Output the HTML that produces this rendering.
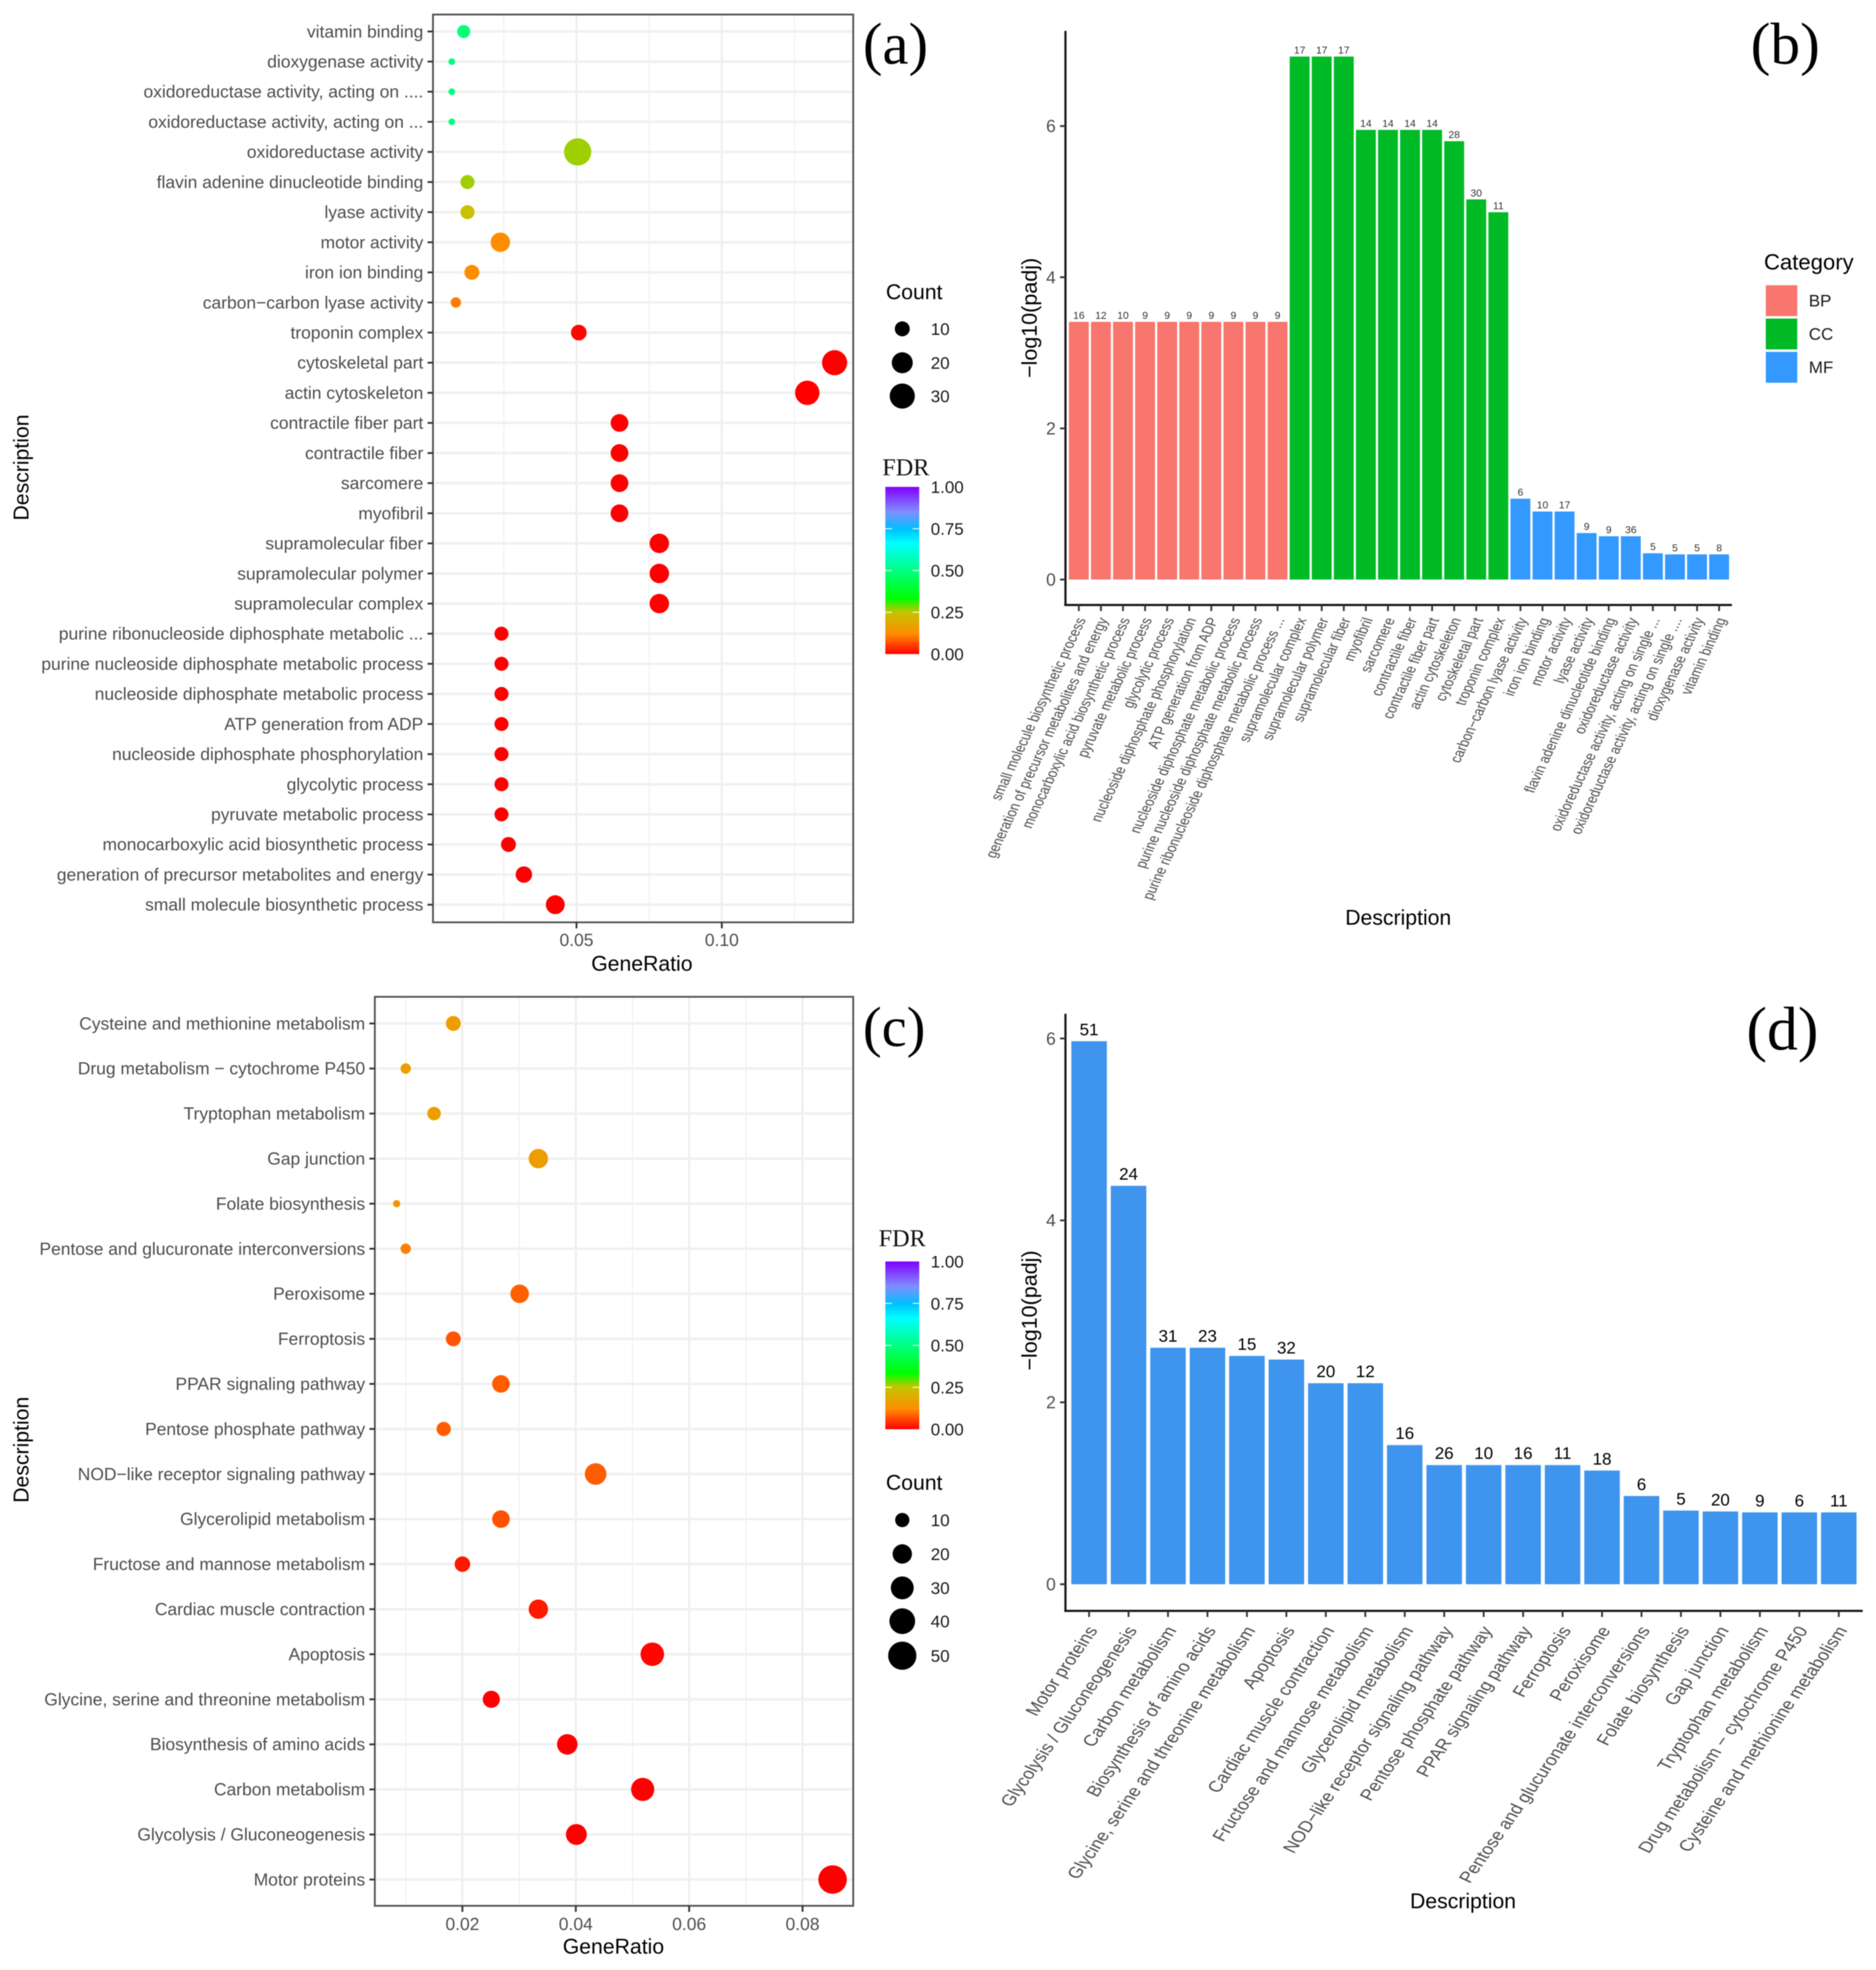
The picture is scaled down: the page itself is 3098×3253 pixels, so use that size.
<!DOCTYPE html>
<html lang="en">
<head>
<meta charset="utf-8">
<title>Enrichment dot plots and bar charts</title>
<style>
html,body{margin:0;padding:0;background:#fff;width:3098px;height:3253px;overflow:hidden}
svg{display:block;filter:blur(0.7px)}
text{font-family:"Liberation Sans",sans-serif}
.serif{font-family:"Liberation Serif",serif}
</style>
</head>
<body>
<svg id="fig" xmlns="http://www.w3.org/2000/svg" width="3098" height="3253" viewBox="0 0 3098 3253">
<defs id="defs"></defs>
<rect width="3098" height="3253" fill="#fff"></rect>
</svg>
<script>
/* ---------- Panel (a) data, top row first ---------- */
const aTerms = ["vitamin binding","dioxygenase activity","oxidoreductase activity, acting on ....","oxidoreductase activity, acting on ...","oxidoreductase activity","flavin adenine dinucleotide binding","lyase activity","motor activity","iron ion binding","carbon\u2212carbon lyase activity","troponin complex","cytoskeletal part","actin cytoskeleton","contractile fiber part","contractile fiber","sarcomere","myofibril","supramolecular fiber","supramolecular polymer","supramolecular complex","purine ribonucleoside diphosphate metabolic ...","purine nucleoside diphosphate metabolic process","nucleoside diphosphate metabolic process","ATP generation from ADP","nucleoside diphosphate phosphorylation","glycolytic process","pyruvate metabolic process","monocarboxylic acid biosynthetic process","generation of precursor metabolites and energy","small molecule biosynthetic process"];
const aRatio = [0.0112,0.0071,0.0071,0.0071,0.0504,0.0125,0.0125,0.0238,0.014,0.0085,0.0508,0.1388,0.1294,0.0648,0.0648,0.0648,0.0648,0.0785,0.0785,0.0785,0.0242,0.0242,0.0242,0.0242,0.0242,0.0242,0.0242,0.0266,0.0319,0.0427];
const aCount = [8,5,5,5,36,9,9,17,10,6,11,30,28,14,14,14,14,17,17,17,9,9,9,9,9,9,9,10,12,16];
const aFdr = [0.5,0.5,0.5,0.5,0.265,0.265,0.245,0.125,0.125,0.105,0.005,0,0,0,0,0,0,0,0,0,0,0,0,0,0,0,0,0,0,0];
const aXTicks = [0.05,0.10];
const aXMinor = [0.025,0.075,0.125];

/* ---------- Panel (b) data ---------- */
const bTerms = ["small molecule biosynthetic process","generation of precursor metabolites and energy","monocarboxylic acid biosynthetic process","pyruvate metabolic process","glycolytic process","nucleoside diphosphate phosphorylation","ATP generation from ADP","nucleoside diphosphate metabolic process","purine nucleoside diphosphate metabolic process","purine ribonucleoside diphosphate metabolic process ...","supramolecular complex","supramolecular polymer","supramolecular fiber","myofibril","sarcomere","contractile fiber","contractile fiber part","actin cytoskeleton","cytoskeletal part","troponin complex","carbon\u2212carbon lyase activity","iron ion binding","motor activity","lyase activity","flavin adenine dinucleotide binding","oxidoreductase activity","oxidoreductase activity, acting on single ...","oxidoreductase activity, acting on single ....","dioxygenase activity","vitamin binding"];
const bValues = [3.41,3.41,3.41,3.41,3.41,3.41,3.41,3.41,3.41,3.41,6.92,6.92,6.92,5.95,5.95,5.95,5.95,5.80,5.03,4.86,1.07,0.90,0.90,0.615,0.573,0.573,0.348,0.333,0.333,0.333];
const bCounts = [16,12,10,9,9,9,9,9,9,9,17,17,17,14,14,14,14,28,30,11,6,10,17,9,9,36,5,5,5,8];
const bCats = ["BP","BP","BP","BP","BP","BP","BP","BP","BP","BP","CC","CC","CC","CC","CC","CC","CC","CC","CC","CC","MF","MF","MF","MF","MF","MF","MF","MF","MF","MF"];
const bYTicks = [0,2,4,6];

/* ---------- Panel (c) data, top row first ---------- */
const cTerms = ["Cysteine and methionine metabolism","Drug metabolism \u2212 cytochrome P450","Tryptophan metabolism","Gap junction","Folate biosynthesis","Pentose and glucuronate interconversions","Peroxisome","Ferroptosis","PPAR signaling pathway","Pentose phosphate pathway","NOD\u2212like receptor signaling pathway","Glycerolipid metabolism","Fructose and mannose metabolism","Cardiac muscle contraction","Apoptosis","Glycine, serine and threonine metabolism","Biosynthesis of amino acids","Carbon metabolism","Glycolysis / Gluconeogenesis","Motor proteins"];
const cRatio = [0.0184,0.01,0.015,0.0334,0.0084,0.01,0.0301,0.0184,0.0268,0.0167,0.0435,0.0268,0.02,0.0334,0.0535,0.0251,0.0385,0.0518,0.0401,0.0853];
const cCount = [11,6,9,20,5,6,18,11,16,10,26,16,12,20,32,15,23,31,24,51];
const cFdr = [0.16,0.16,0.16,0.16,0.14,0.11,0.082,0.073,0.08,0.08,0.08,0.07,0.02,0.02,0.005,0,0,0,0,0];
const cXTicks = [0.02,0.04,0.06,0.08];
const cXMinor = [0.01,0.03,0.05,0.07];

/* ---------- Panel (d) data ---------- */
const dTerms = ["Motor proteins","Glycolysis / Gluconeogenesis","Carbon metabolism","Biosynthesis of amino acids","Glycine, serine and threonine metabolism","Apoptosis","Cardiac muscle contraction","Fructose and mannose metabolism","Glycerolipid metabolism","NOD\u2212like receptor signaling pathway","Pentose phosphate pathway","PPAR signaling pathway","Ferroptosis","Peroxisome","Pentose and glucuronate interconversions","Folate biosynthesis","Gap junction","Tryptophan metabolism","Drug metabolism \u2212 cytochrome P450","Cysteine and methionine metabolism"];
const dValues = [5.97,4.38,2.6,2.6,2.51,2.47,2.21,2.21,1.53,1.31,1.31,1.31,1.31,1.25,0.97,0.81,0.8,0.79,0.79,0.79];
const dCounts = [51,24,31,23,15,32,20,12,16,26,10,16,11,18,6,5,20,9,6,11];
const dYTicks = [0,2,4,6];

/* ---------- Legend data ---------- */
const aSizeBreaks = [10,20,30];
const cSizeBreaks = [10,20,30,40,50];
const fdrBreaks = [0,0.25,0.5,0.75,1];
const catNames = ["BP","CC","MF"];
const catColors = {BP:"#F8766D",CC:"#00BB25",MF:"#3399FF"};
const rainbowPos = [0,0.12,0.25,0.33,0.5,0.66,0.75,0.85,1];
const rainbowCol = ["#ff0000","#ff8c00","#c4c400","#00ff00","#00ff80","#00ffff","#00bfff","#7f8fff","#8000ff"];

const NS = "http://www.w3.org/2000/svg";
const fig = document.getElementById("fig");

function el(parent, tag, attrs, txt){
  const e = document.createElementNS(NS, tag);
  for (const k in attrs) e.setAttribute(k, attrs[k]);
  if (txt !== undefined) e.textContent = txt;
  parent.appendChild(e);
  return e;
}
function group(parent, name){
  const g = document.createElementNS(NS, "g");
  
  
  parent.appendChild(g);
  return g;
}
function label(parent, name, x, y, size, fill, anchor, str, extra){
  const t = el(parent, "text", Object.assign({x:x, y:y, "font-size":size, fill:fill, "text-anchor":anchor}, extra || {}), str);
  
  
  return t;
}
function hex2(c){return [parseInt(c.substr(1,2),16),parseInt(c.substr(3,2),16),parseInt(c.substr(5,2),16)];}
function fdrColor(v){
  for (let i = 1; i < rainbowPos.length; i++){
    if (v <= rainbowPos[i]){
      const t = (v - rainbowPos[i-1]) / (rainbowPos[i] - rainbowPos[i-1]);
      const a = hex2(rainbowCol[i-1]), b = hex2(rainbowCol[i]);
      return "rgb(" + a.map((p,j)=>Math.round(p + (b[j]-p)*t)).join(",") + ")";
    }
  }
  return rainbowCol[rainbowCol.length-1];
}
function rA(n){return 5.5 + 17*Math.sqrt((n-5)/31);}
function rC(n){return 6 + 17.5*Math.sqrt((n-5)/46);}

/* rainbow gradient for colour bars */
const defs = document.getElementById("defs");
const grad = el(defs, "linearGradient", {id:"fdr-grad", x1:0, y1:1, x2:0, y2:0});
rainbowPos.forEach((p,i)=>el(grad, "stop", {offset:p, "stop-color":rainbowCol[i]}));

/* ---------- Dot plot ---------- */
function dotPlot(o){
  const g = group(fig, o.name);
  const n = o.terms.length;
  const x = v => o.x0 + (v - o.v0) * o.k;
  const y = i => o.yFirst + i * o.step;
  const grid = group(g, "plot-grid");
  o.minor.forEach(v=>{
    const l = el(grid, "line", {x1:x(v), x2:x(v), y1:o.top, y2:o.bottom, stroke:"#f1f1f1", "stroke-width":2});
    
    
  });
  o.ticks.forEach(v=>{
    const l = el(grid, "line", {x1:x(v), x2:x(v), y1:o.top, y2:o.bottom, stroke:"#ececec", "stroke-width":3});
    
    
  });
  for (let i = 0; i < n; i++){
    const l = el(grid, "line", {x1:o.left+3, x2:o.right-2, y1:y(i), y2:y(i), stroke:"#f0f0f0", "stroke-width":4});
    
    
  }
  const dots = group(g, "dots");
  for (let i = 0; i < n; i++){
    const c = el(dots, "circle", {cx:x(o.ratio[i]), cy:y(i), r:o.rad(o.count[i]), fill:fdrColor(o.fdr[i])});
    
    
  }
  const frame = el(g, "rect", {x:o.left, y:o.top, width:o.right-o.left, height:o.bottom-o.top, fill:"none", stroke:"#555", "stroke-width":3});
  
  
  const yax = group(g, "y-axis");
  for (let i = 0; i < n; i++){
    const t = el(yax, "line", {x1:o.left-9, x2:o.left, y1:y(i), y2:y(i), stroke:"#333", "stroke-width":3});
    
    
    label(yax, "y-tick-label", o.left-16, y(i)+o.fs*0.34, o.fs, "#4d4d4d", "end", o.terms[i]);
  }
  const xax = group(g, "x-axis");
  o.ticks.forEach(v=>{
    const t = el(xax, "line", {x1:x(v), x2:x(v), y1:o.bottom, y2:o.bottom+10, stroke:"#333", "stroke-width":3});
    
    
    label(xax, "x-tick-label", x(v), o.xLabelY, o.fs, "#4d4d4d", "middle", v.toFixed(2));
  });
  label(g, "x-axis-title", o.xTitleX, o.xTitleY, 35, "#000", "middle", "GeneRatio");
  label(g, "y-axis-title", 0, 0, 35, "#000", "middle", "Description", {transform:"translate(47 "+o.yTitleY+") rotate(-90)"});
}

/* ---------- Bar chart ---------- */
function barChart(o){
  const g = group(fig, o.name);
  const x = i => o.xFirst + i * o.step;
  const y = v => o.y0 - v * o.k;
  const w = o.step * 0.9;
  const bars = group(g, "bars");
  o.values.forEach((v,i)=>{
    const b = el(bars, "rect", {x:x(i)-w/2, y:y(v), width:w, height:o.y0-y(v), fill:o.color(i)});
    
    
    label(bars, "bar-count-label", x(i), y(v)-o.countGap, o.countFs, o.countFill, "middle", String(o.counts[i]));
  });
  const yax = group(g, "y-axis");
  const yl = el(yax, "line", {x1:o.axisX, x2:o.axisX, y1:o.top, y2:o.axisY, stroke:"#111", "stroke-width":3.5});
  
  
  o.yTicks.forEach(v=>{
    const t = el(yax, "line", {x1:o.axisX-9, x2:o.axisX, y1:y(v), y2:y(v), stroke:"#333", "stroke-width":3});
    
    
    label(yax, "y-tick-label", o.axisX-16, y(v)+10, 28.8, "#4d4d4d", "end", String(v));
  });
  const xax = group(g, "x-axis");
  const xl = el(xax, "line", {x1:o.axisX-2, x2:o.axisEnd, y1:o.axisY, y2:o.axisY, stroke:"#111", "stroke-width":3.5});
  
  
  o.terms.forEach((s,i)=>{
    const t = el(xax, "line", {x1:x(i), x2:x(i), y1:o.axisY, y2:o.axisY+10, stroke:"#333", "stroke-width":3});
    
    
    label(xax, "x-tick-label", 0, 0, o.labelFs, "#4d4d4d", "end", s,
      {transform:"translate("+(x(i)+o.labelDx)+" "+o.labelY+") scale(1 "+o.labelSy+") rotate("+(-o.labelAngle)+")"});
  });
  label(g, "y-axis-title", 0, 0, 35.5, "#000", "middle", "\u2212log10(padj)", {transform:"translate(1712 "+o.yTitleY+") rotate(-90)"});
  label(g, "x-axis-title", o.xTitleX, o.xTitleY, 35, "#000", "middle", "Description");
}

dotPlot({name:"panel-a-dot-plot", terms:aTerms, ratio:aRatio, count:aCount, fdr:aFdr, ticks:aXTicks, minor:aXMinor,
  rad:rA, left:715, right:1409, top:24, bottom:1523, x0:952, v0:0.05, k:4800, yFirst:52, step:49.72, fs:28.8,
  xLabelY:1562, xTitleX:1060, xTitleY:1603, yTitleY:772});
dotPlot({name:"panel-c-dot-plot", terms:cTerms, ratio:cRatio, count:cCount, fdr:cFdr, ticks:cXTicks, minor:cXMinor,
  rad:rC, left:619, right:1409, top:1646, bottom:3147, x0:763.6, v0:0.02, k:9362, yFirst:1690, step:74.4, fs:28.8,
  xLabelY:3187, xTitleX:1013, xTitleY:3226, yTitleY:2394});
barChart({name:"panel-b-bar-chart", terms:bTerms, values:bValues, counts:bCounts, color:i=>catColors[bCats[i]], yTicks:bYTicks,
  xFirst:1781.6, step:36.46, y0:957, k:124.8, axisX:1759.5, axisY:999, top:51, axisEnd:2860, countGap:5, countFs:17, countFill:"#333",
  labelFs:26, labelDx:12, labelY:1023, labelSy:0.77, labelAngle:70, yTitleY:525, xTitleX:2309, xTitleY:1527});
barChart({name:"panel-d-bar-chart", terms:dTerms, values:dValues, counts:dCounts, color:()=>"#3F94EE", yTicks:dYTicks,
  xFirst:1798.5, step:65.16, y0:2616, k:150.2, axisX:1759.5, axisY:2660, top:1674, axisEnd:3076, countGap:10, countFs:28, countFill:"#000",
  labelFs:32, labelDx:15, labelY:2692, labelSy:0.81, labelAngle:60, yTitleY:2164, xTitleX:2416, xTitleY:3151});

/* ---------- Legends ---------- */
function sizeLegend(parent, title, titleY, breaks, ys, rad){
  const g = group(parent, "count-legend");
  label(g, "count-legend-title", 1463, titleY, 35, "#000", "start", title);
  breaks.forEach((b,i)=>{
    const c = el(g, "circle", {cx:1490, cy:ys[i], r:rad(b), fill:"#000"});
    
    
    label(g, "count-legend-label", 1537, ys[i]+10, 28, "#1a1a1a", "start", String(b));
  });
}
function colorLegend(parent, titleX, titleY, top, bottom){
  const g = group(parent, "fdr-legend");
  label(g, "fdr-legend-title", titleX, titleY, 40, "#111", "start", "FDR", {class:"serif"});
  const bar = el(g, "rect", {x:1462, y:top, width:56, height:bottom-top, fill:"url(#fdr-grad)"});
  
  
  fdrBreaks.forEach(b=>{
    const y = bottom - b*(bottom-top);
    if (b > 0 && b < 1){
      const t1 = el(g, "line", {x1:1462, x2:1473, y1:y, y2:y, stroke:"#fff", "stroke-width":1.5});
      
      
      const t2 = el(g, "line", {x1:1507, x2:1518, y1:y, y2:y, stroke:"#fff", "stroke-width":1.5});
      
      
    }
    label(g, "colorbar-label", 1537, y+10, 28, "#1a1a1a", "start", b.toFixed(2));
  });
}
sizeLegend(fig, "Count", 494, aSizeBreaks, [543,599,654], rA);
colorLegend(fig, 1457, 785, 804, 1080);
colorLegend(fig, 1451, 2058, 2083, 2360);
sizeLegend(fig, "Count", 2460, cSizeBreaks, [2510,2566,2622,2677,2734], rC);

const catLegend = group(fig, "category-legend");
label(catLegend, "category-legend-title", 2913, 445, 36.5, "#000", "start", "Category");
catNames.forEach((c,i)=>{
  const top = 471 + i*55;
  const s = el(catLegend, "rect", {x:2916, y:top, width:52, height:51, fill:catColors[c]});
  
  
  label(catLegend, "category-label", 2987, top+35, 28, "#1a1a1a", "start", c);
});

/* ---------- Panel letters ---------- */
label(fig, "panel-label-a", 1425, 105, 97, "#000", "start", "(a)", {class:"serif"});
label(fig, "panel-label-b", 2891, 105, 98, "#000", "start", "(b)", {class:"serif"});
label(fig, "panel-label-c", 1425, 1727, 93, "#000", "start", "(c)", {class:"serif"});
label(fig, "panel-label-d", 2884, 1733, 102, "#000", "start", "(d)", {class:"serif"});
</script>
</body>
</html>
